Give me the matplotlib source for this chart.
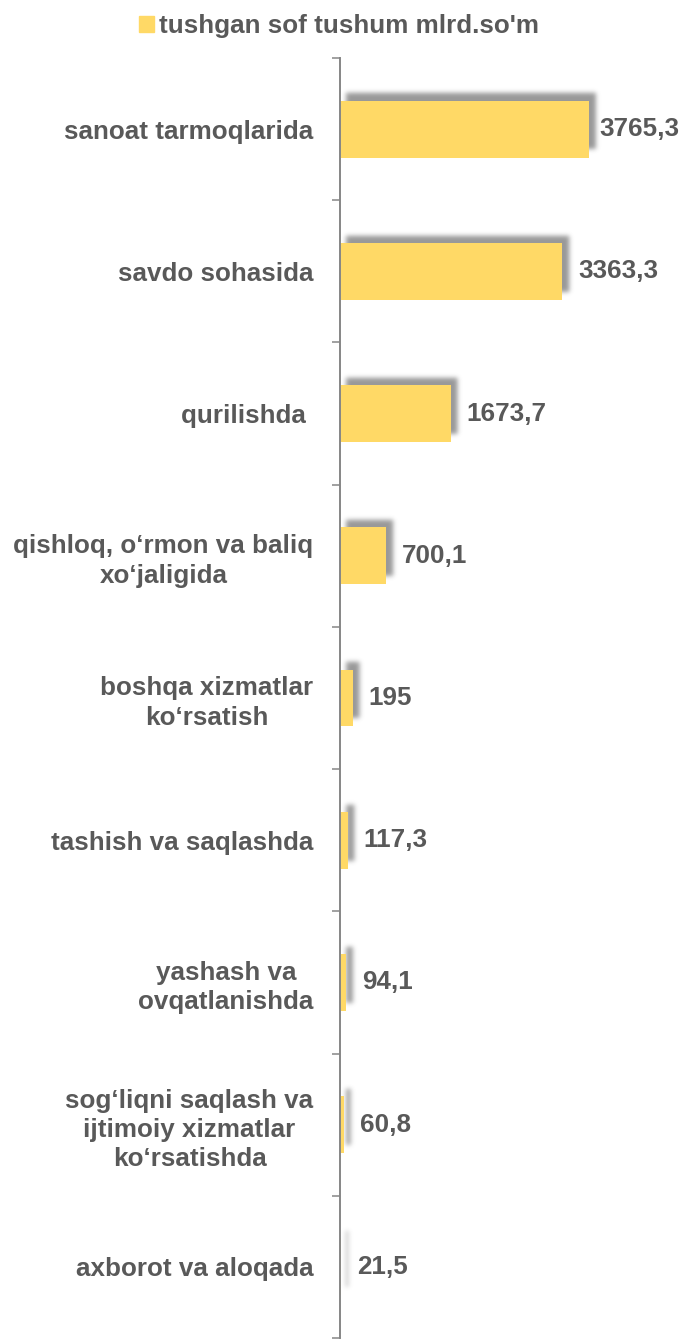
import matplotlib
matplotlib.use("Agg")
import matplotlib.pyplot as plt
import numpy as np
from math import erf, sqrt
from matplotlib.patches import Patch
from matplotlib.transforms import ScaledTranslation
from matplotlib.ticker import FixedLocator

# данные
categories = [
    "sanoat tarmoqlarida",
    "savdo sohasida",
    "qurilishda ",
    "qishloq, o‘rmon va baliq\nxo‘jaligida",
    "boshqa xizmatlar\nko‘rsatish",
    "tashish va saqlashda",
    "yashash va\novqatlanishda",
    "sog‘liqni saqlash va\nijtimoiy xizmatlar\nko‘rsatishda",
    "axborot va aloqada",
]
values = [3765.3, 3363.3, 1673.7, 700.1, 195, 117.3, 94.1, 60.8, 21.5]
series_name = "tushgan sof tushum mlrd.so'm"

bar_color = "#FFD966"
text_color = "#595959"
axis_color = "#868686"
fs = 18.7
bar_h = 0.4
xmax = 5000

plt.rcParams["font.family"] = ["Liberation Sans", "DejaVu Sans"]
plt.rcParams["font.weight"] = "bold"

fig = plt.figure(figsize=(6.82, 13.41), dpi=100)
ax_w, ax_h = 330.7, 1280  # размер осей в пикселях
ax = fig.add_axes([340 / 682, 3 / 1341, ax_w / 682, ax_h / 1341])

pos = list(range(len(categories)))

# размытая тень (прямоугольник, размытый по Гауссу), смещение вверх-вправо
shadow = ax.transData + ScaledTranslation(6 / 100, 7 / 100, fig.dpi_scale_trans)
px_x = xmax / ax_w
px_y = len(categories) / ax_h
erf_v = np.vectorize(erf)
sig = 2.3
m = 3 * sig


def blur_profile(n_px, size):
    c = np.arange(-m, size + m + 1) + 0.5
    return 0.5 * (erf_v(c / (sig * sqrt(2))) - erf_v((c - size) / (sig * sqrt(2)))), len(c)


for i, v in enumerate(values):
    w_px = v / px_x
    h_px = bar_h / px_y
    fx, nx = blur_profile(0, w_px)
    fy, ny = blur_profile(0, h_px)
    img = np.zeros((ny, nx, 4))
    img[..., :3] = 0.35
    img[..., 3] = 0.62 * np.outer(fy, fx)
    ax.imshow(img, extent=(-m * px_x, (nx - m) * px_x,
                           i + (h_px / 2 + m) * px_y, i - (h_px / 2 + m) * px_y),
              transform=shadow, aspect="auto", interpolation="bilinear", zorder=1)

ax.barh(pos, values, height=bar_h, color=bar_color, zorder=3)

ax.set_xlim(0, xmax)
ax.set_ylim(len(categories) - 0.5, -0.5)

for s in ["top", "right", "bottom"]:
    ax.spines[s].set_visible(False)
ax.spines["left"].set_color(axis_color)
ax.spines["left"].set_linewidth(1.4)
ax.spines["left"].set_zorder(4)
ax.set_xticks([])

ax.yaxis.set_major_locator(FixedLocator([i - 0.5 for i in range(len(categories) + 1)]))
ax.yaxis.set_minor_locator(FixedLocator(pos))
ax.set_yticklabels([], minor=False)
ax.set_yticklabels(categories, minor=True)
ax.tick_params(axis="y", which="major", length=5.5, width=1.1, color=axis_color, direction="out")
ax.tick_params(axis="y", which="minor", length=0, pad=19, labelsize=fs, labelcolor=text_color)
for t in ax.get_yticklabels(minor=True):
    t.set_multialignment("center")
    t.set_fontweight("bold")
    t.set_linespacing(1.28)

labels = []
for i, v in enumerate(values):
    txt = f"{v:g}".replace(".", ",")
    a = ax.annotate(txt, xy=(v, i), xytext=(11.5, 0), textcoords="offset points",
                    va="center", ha="left", fontsize=fs, fontweight="bold",
                    color=text_color, zorder=5)
    labels.append(a)

# подпись не должна вылезать за край картинки
fig.canvas.draw()
W = fig.bbox.width
for a in labels:
    bb = a.get_window_extent()
    if bb.x1 > W - 3:
        dx = (bb.x1 - (W - 3)) * 72 / fig.dpi
        a.xyann = (a.xyann[0] - dx, 0)

fig.legend(handles=[Patch(color=bar_color)], labels=[series_name],
           loc="center", bbox_to_anchor=(339 / 682, 1 - 26 / 1341), frameon=False,
           prop={"size": fs, "weight": "bold"}, labelcolor=text_color,
           handlelength=0.55, handleheight=0.55, handletextpad=0.2)

fig.savefig("out.png", dpi=100)
